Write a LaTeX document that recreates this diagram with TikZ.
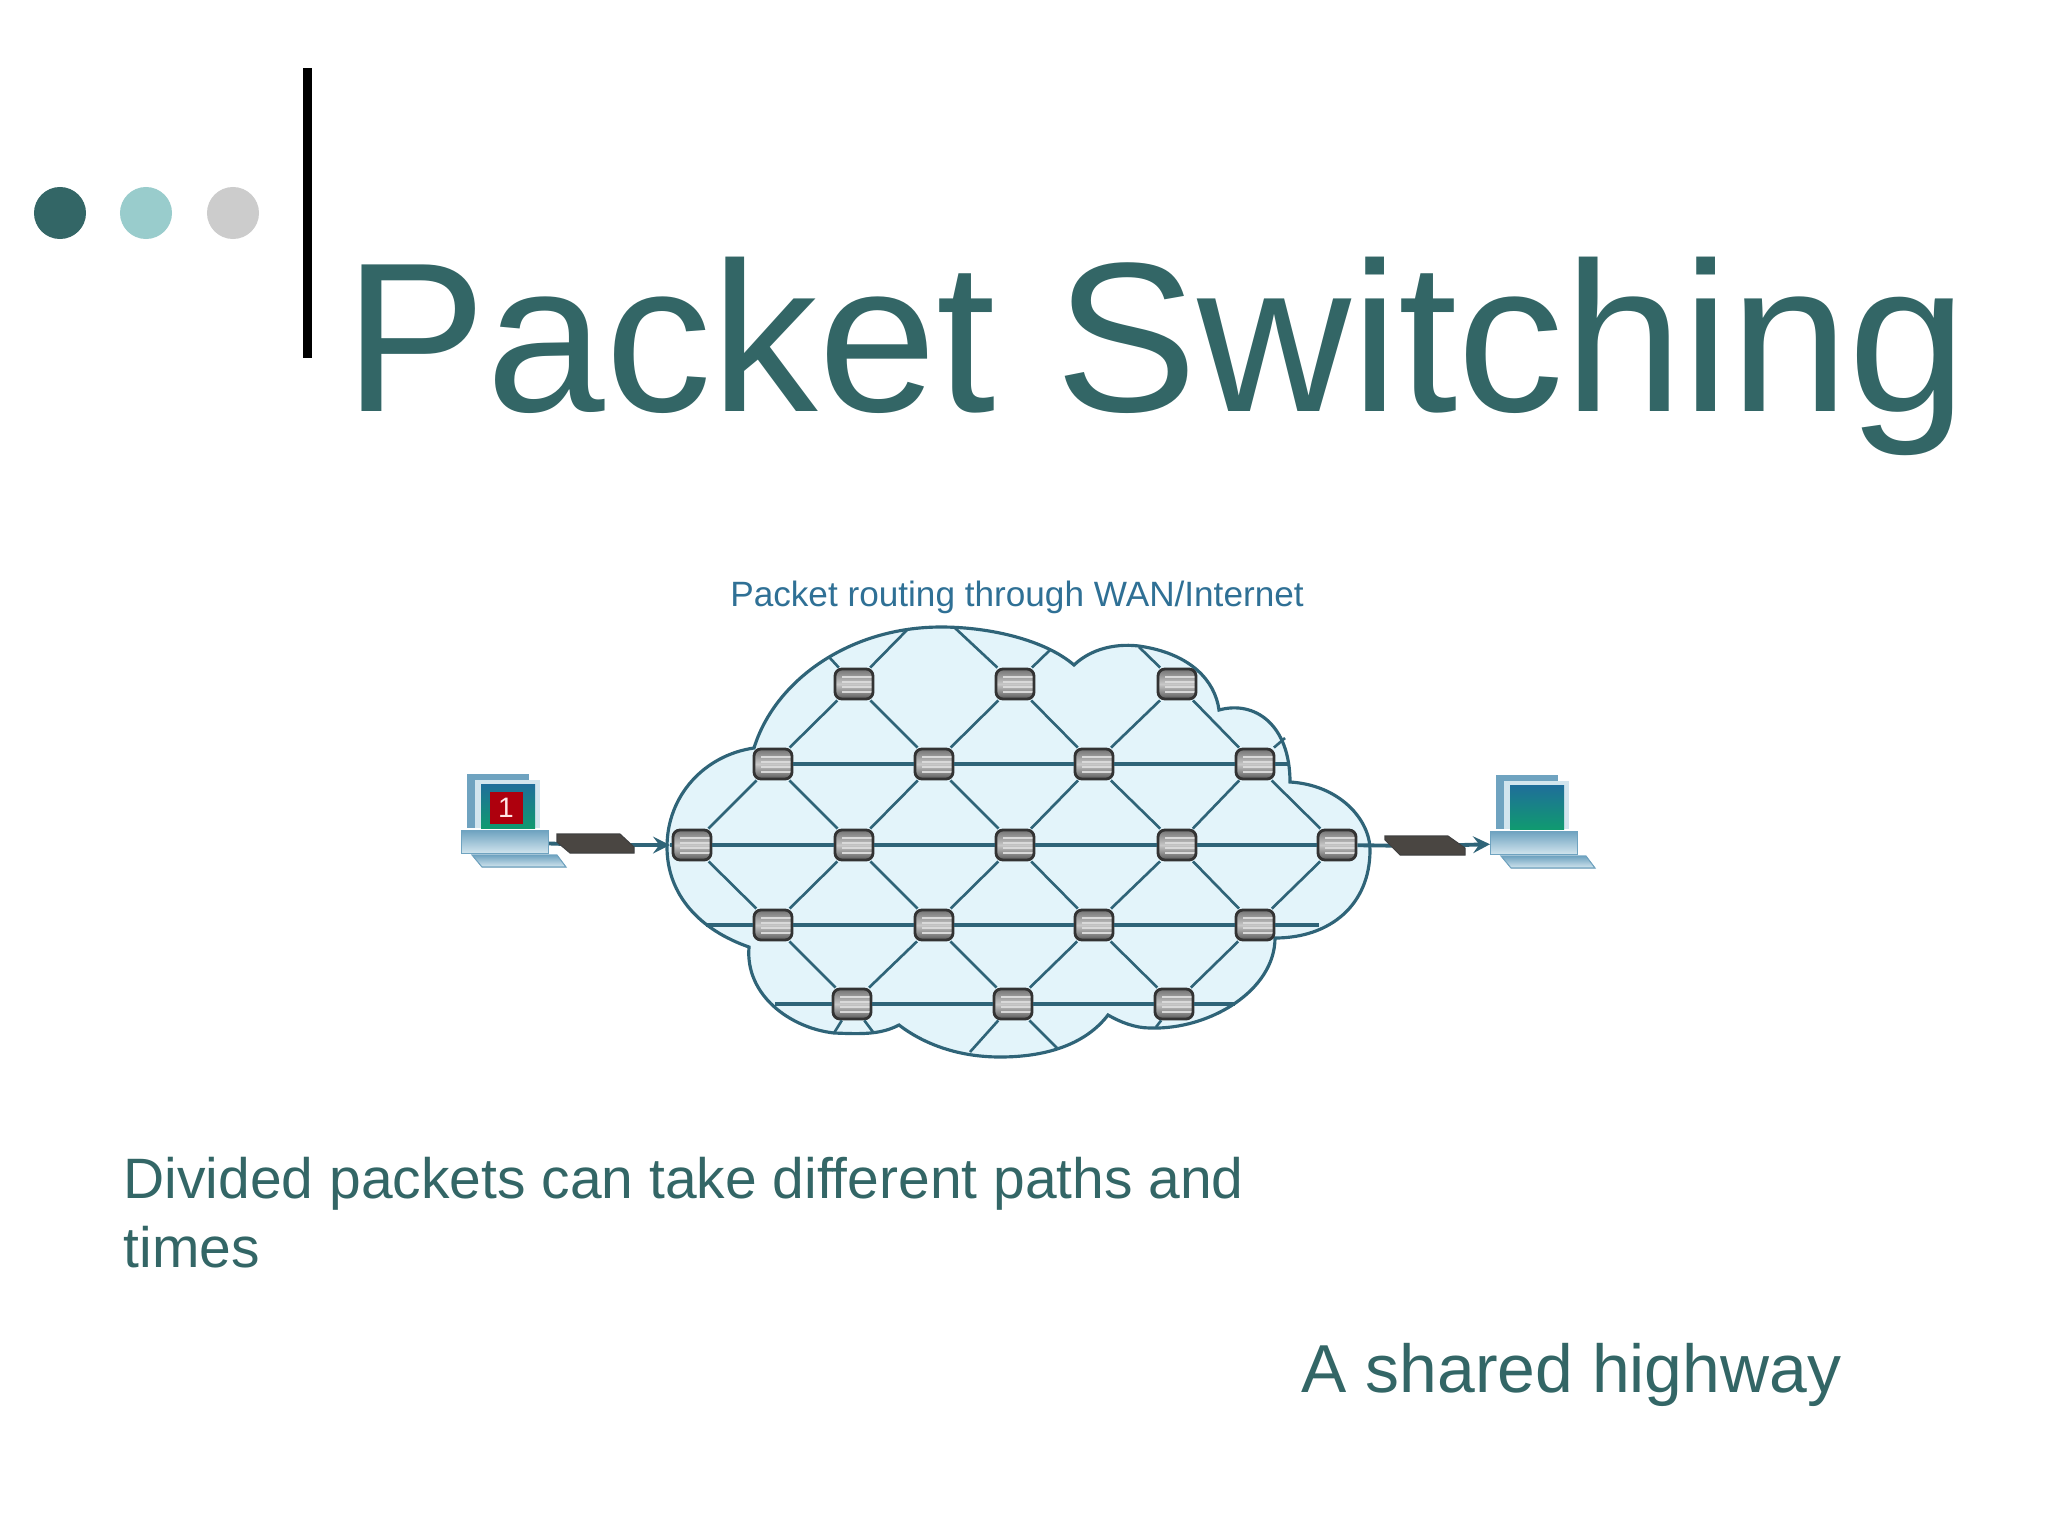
\documentclass[tikz,border=0pt]{standalone}
\usepackage{fontspec}
\setmainfont{Liberation Sans}
\definecolor{titleteal}{HTML}{336666}
\definecolor{dotmid}{HTML}{99CCCC}
\definecolor{dotgray}{HTML}{CCCCCC}
\definecolor{netline}{HTML}{2F6478}
\definecolor{cloudfill}{HTML}{E3F4FA}
\definecolor{captionblue}{HTML}{2F7095}
\definecolor{pcframe}{HTML}{6FA3C0}
\definecolor{pcblue}{HTML}{1F6E9A}
\definecolor{pcgreen}{HTML}{109A70}
\definecolor{pcpale}{HTML}{D2E5EE}
\definecolor{modemgray}{HTML}{4A4642}
\tikzset{
  dot/.style={circle, minimum size=0.52cm, inner sep=0pt},
  slidetext/.style={inner sep=0pt, text=titleteal},
  link/.style={draw=netline, line width=0.75pt},
  trunk/.style={draw=netline, line width=1.1pt},
  router/.style={rectangle, rounded corners=2pt, draw=black!80, line width=0.8pt,
    minimum width=0.38cm, minimum height=0.3cm, inner sep=0pt,
    top color=black!55, bottom color=black!65, middle color=black!22,
    path picture={
      \draw[white!85!black, line width=0.35pt]
        ([xshift=-1.2mm,yshift=0.7mm]path picture bounding box.center) -- ++(45,0)
        ([xshift=-1.2mm,yshift=0.2mm]path picture bounding box.center) -- ++(70,0)
        ([xshift=-1.2mm,yshift=-0.3mm]path picture bounding box.center) -- ++(60,0)
        ([xshift=-1.2mm,yshift=-0.8mm]path picture bounding box.center) -- ++(50,0);
    }},
  pcbase/.style={rectangle, minimum width=0.87cm, minimum height=0.23cm, inner sep=0pt,
    top color=pcframe, bottom color=pcpale, draw=pcframe, line width=0.3pt},
  modembox/.style={fill=modemgray, draw=black!75, line width=0.3pt},
  computer/.pic={
    \fill[pcframe] (6,-56) rectangle (68,-2);
    \fill[pcpale] (14,-50) rectangle (79,-2);
    \fill[top color=pcblue, bottom color=pcgreen] (20,-46) rectangle (74,-2);
    \node[pcbase, anchor=north west] (-base) at (0,0) {};
    \fill[top color=pcframe, bottom color=pcpale, draw=pcframe, line width=0.3pt]
      (11,25) -- (96,25) -- (105,37) -- (21,37) -- cycle;
  }
}
\begin{document}
\begin{tikzpicture}[x=0.01cm, y=-0.01cm]
\useasboundingbox (0,0) rectangle (2048,1536);

% top left decoration
\node[dot, fill=titleteal] (d1) at (60,213) {};
\node[dot, fill=dotmid] (d2) at (146,213) {};
\node[dot, fill=dotgray] (d3) at (233,213) {};
\fill[black] (303,68) rectangle (312,358);

\node[slidetext, anchor=base west, font=\fontsize{60.6}{60}\selectfont] (title) at (344,411) {Packet Switching};
\node[anchor=base, inner sep=0pt, text=captionblue, font=\fontsize{10}{12}\selectfont] (caption) at (1017,606) {Packet routing through WAN/Internet};

% cloud
\draw[draw=netline, line width=0.9pt, fill=cloudfill]
  (754,748) .. controls (775,680) and (850,627) .. (941,627)
  .. controls (990,627) and (1045,640) .. (1074,665)
  .. controls (1095,645) and (1125,643) .. (1145,647)
  .. controls (1190,655) and (1215,680) .. (1219,710)
  .. controls (1255,700) and (1290,725) .. (1290,782)
  .. controls (1340,785) and (1370,820) .. (1370,850)
  .. controls (1370,905) and (1330,938) .. (1275,938)
  .. controls (1275,990) and (1210,1030) .. (1150,1028)
  .. controls (1135,1028) and (1120,1022) .. (1108,1015)
  .. controls (1085,1045) and (1045,1057) .. (1000,1057)
  .. controls (960,1057) and (925,1045) .. (899,1025)
  .. controls (880,1035) and (860,1034) .. (834,1033)
  .. controls (790,1028) and (745,995) .. (749,947)
  .. controls (700,930) and (667,895) .. (667,847)
  .. controls (667,795) and (705,755) .. (754,748) -- cycle;

% routers
\node[router] (r11) at (854,684) {};
\node[router] (r12) at (1015,684) {};
\node[router] (r13) at (1177,684) {};
\node[router] (r21) at (773,764) {};
\node[router] (r22) at (934,764) {};
\node[router] (r23) at (1094,764) {};
\node[router] (r24) at (1255,764) {};
\node[router] (r31) at (692,845) {};
\node[router] (r32) at (854,845) {};
\node[router] (r33) at (1015,845) {};
\node[router] (r34) at (1177,845) {};
\node[router] (r35) at (1337,845) {};
\node[router] (r41) at (773,925) {};
\node[router] (r42) at (934,925) {};
\node[router] (r43) at (1094,925) {};
\node[router] (r44) at (1255,925) {};
\node[router] (r51) at (852,1004) {};
\node[router] (r52) at (1013,1004) {};
\node[router] (r53) at (1174,1004) {};

% free ends on the cloud border
\coordinate (e1) at (829,657);
\coordinate (e2) at (907,630);
\coordinate (e3) at (955,628);
\coordinate (e4) at (1050,650);
\coordinate (e5) at (1139,647);
\coordinate (e6) at (1285,738);
\coordinate (e7) at (1290,764);
\coordinate (e8) at (706,925);
\coordinate (e9) at (1319,925);
\coordinate (e10) at (775,1004);
\coordinate (e11) at (1235,1004);
\coordinate (e12) at (834,1033);
\coordinate (e13) at (873,1032);
\coordinate (e14) at (970,1052);
\coordinate (e15) at (1057,1048);
\coordinate (e16) at (1156,1027);
\coordinate (tipl) at (670,845);

\foreach \a/\b in {r11/r21,r11/r22,r12/r22,r12/r23,r13/r23,r13/r24,
  r21/r31,r21/r32,r22/r32,r22/r33,r23/r33,r23/r34,r24/r34,r24/r35,
  r31/r41,r32/r41,r32/r42,r33/r42,r33/r43,r34/r43,r34/r44,r35/r44,
  r41/r51,r42/r51,r42/r52,r43/r52,r43/r53,r44/r53,
  r11/e1,r11/e2,r12/e3,r12/e4,r13/e5,r24/e6,r51/e12,r51/e13,r52/e14,r52/e15,r53/e16}
  \draw[link] (\a)--(\b);

\foreach \a/\b in {r21/r22,r22/r23,r23/r24,r24/e7,e8/r41,r41/r42,r42/r43,r43/r44,r44/e9,
  e10/r51,r51/r52,r52/r53,r53/e11,r31/r32,r32/r33,r33/r34,r34/r35}
  \draw[trunk] (\a)--(\b);

% ends of the path
\pic (pcl) at (461,830) {computer};
\pic (pcr) at (1490,831) {computer};
\fill[red!72!black!95!blue] (490,792) rectangle (523,824);
\node[inner sep=0pt, text=white!90!red, font=\fontsize{8}{8}\selectfont] (one) at (506,808) {1};

\coordinate (modl) at (595,845);
\coordinate (modr) at (1425,846);
\draw[trunk] (pcl-base)--(modl);
\draw[trunk, -stealth] (modl)--(tipl);
\draw[trunk] (tipl)--(r31);
\draw[trunk] (r35)--(modr);
\draw[trunk, -stealth] (modr)--(pcr-base);
\draw[modembox] (557,834) -- (620,834) -- (634,847) -- (634,853) -- (570,853) -- (557,842) -- cycle;
\draw[modembox] (1385,836) -- (1448,836) -- (1465,848) -- (1465,855) -- (1400,855) -- (1385,840) -- cycle;

% texts below
\node[slidetext, anchor=base west, font=\fontsize{16.2}{19.6}\selectfont] (line1) at (123,1198) {Divided packets can take different paths and};
\node[slidetext, anchor=base west, font=\fontsize{16.2}{19.6}\selectfont] (line2) at (123,1267) {times};
\node[slidetext, anchor=base west, font=\fontsize{19.3}{23}\selectfont] (highway) at (1301,1392) {A shared highway};
\end{tikzpicture}
\end{document}
